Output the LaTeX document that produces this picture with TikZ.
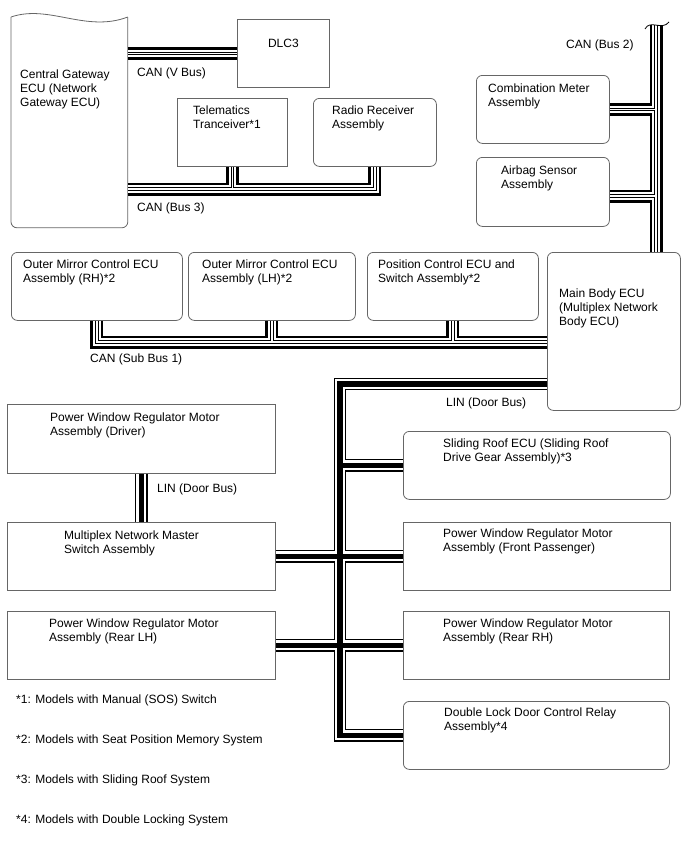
\documentclass[tikz,border=0pt]{standalone}
\usepackage{fontspec}
\setmainfont{Liberation Sans}
\usetikzlibrary{positioning,calc}

\begin{document}
\begin{tikzpicture}[x=1pt,y=-1pt,node distance=8pt,
  box/.style={draw=black!60,line width=0.8pt,inner sep=0pt,anchor=north west},
  rbox/.style={box,rounded corners=6pt},
  txt/.style={align=left,inner sep=0pt,font=\fontsize{12}{14}\selectfont},
  can/.style={line width=13pt,
    postaction={draw=white,line width=7.6pt},
    postaction={draw=black,line width=3.8pt},
    postaction={draw=white,line width=1.4pt}},
  lin/.style={line width=12.5pt,
    postaction={draw=white,line width=10pt},
    postaction={draw=black,line width=5.2pt}}]
  \useasboundingbox (0,0) rectangle (688,852);

  % boxes
  \node[box,draw=none,minimum width=116,minimum height=210] (gw) at (11,17) {};
  \node[box,minimum width=92,minimum height=68] (dlc) at (237,19) {};
  \node[box,minimum width=110,minimum height=68] (tel) at (177,98) {};
  \node[rbox,minimum width=123,minimum height=68] (radio) at (313,98) {};
  \node[rbox,minimum width=133,minimum height=68] (cm) at (476,75) {};
  \node[rbox,minimum width=133,minimum height=69] (ab) at (476,157) {};
  \node[rbox,minimum width=171,minimum height=68] (omr) at (11,252) {};
  \node[rbox,minimum width=167,minimum height=68] (oml) at (188,252) {};
  \node[rbox,minimum width=171,minimum height=68] (pos) at (367,252) {};
  \node[rbox,minimum width=133,minimum height=158] (mb) at (547,252) {};
  \node[box,minimum width=268,minimum height=69] (drv) at (7,404) {};
  \node[box,minimum width=268,minimum height=68] (msw) at (7,522) {};
  \node[rbox,minimum width=267,minimum height=68] (sr) at (403,431) {};
  \node[box,minimum width=267,minimum height=68] (fp) at (403,522) {};
  \node[box,minimum width=268,minimum height=68] (rlh) at (7,611) {};
  \node[box,minimum width=266,minimum height=68] (rrh) at (403,611) {};
  \node[rbox,minimum width=266,minimum height=68] (dl) at (403,701) {};

  % gateway outline with wavy top
  \draw[draw=black!60,line width=0.8pt,rounded corners=6pt]
    (gw.north west) -- (gw.south west) -- (gw.south east) -- (gw.north east);
  \draw[draw=black!60,line width=0.8pt] (gw.north west)
    .. controls ($(gw.north west)+(38,-13)$) and ($(gw.north east)+(-42,16)$) .. (gw.north east);

  % box texts
  \node[txt,below right=53pt and 9pt of gw.north west] (tgw) {Central Gateway\\ECU (Network\\Gateway ECU)};
  \node[txt,anchor=north,below=20pt of dlc.north] (tdlc) {DLC3};
  \node[txt,below right=8pt and 16pt of tel.north west] (ttel) {Telematics\\Tranceiver*1};
  \node[txt,below right=8pt and 19pt of radio.north west] (tradio) {Radio Receiver\\Assembly};
  \node[txt,below right=9pt and 12pt of cm.north west] (tcm) {Combination Meter\\Assembly};
  \node[txt,below right=9pt and 25pt of ab.north west] (tab) {Airbag Sensor\\Assembly};
  \node[txt,below right=8pt and 12pt of omr.north west] (tomr) {Outer Mirror Control ECU\\Assembly (RH)*2};
  \node[txt,below right=8pt and 14pt of oml.north west] (toml) {Outer Mirror Control ECU\\Assembly (LH)*2};
  \node[txt,below right=8pt and 11pt of pos.north west] (tpos) {Position Control ECU and\\Switch Assembly*2};
  \node[txt,below right=37pt and 12pt of mb.north west] (tmb) {Main Body ECU\\(Multiplex Network\\Body ECU)};
  \node[txt,below right=9pt and 43pt of drv.north west] (tdrv) {Power Window Regulator Motor\\Assembly (Driver)};
  \node[txt,below right=9pt and 57pt of msw.north west] (tmsw) {Multiplex Network Master\\Switch Assembly};
  \node[txt,below right=8pt and 40pt of sr.north west] (tsr) {Sliding Roof ECU (Sliding Roof\\Drive Gear Assembly)*3};
  \node[txt,below right=7pt and 40pt of fp.north west] (tfp) {Power Window Regulator Motor\\Assembly (Front Passenger)};
  \node[txt,below right=8pt and 42pt of rlh.north west] (trlh) {Power Window Regulator Motor\\Assembly (Rear LH)};
  \node[txt,below right=8pt and 40pt of rrh.north west] (trrh) {Power Window Regulator Motor\\Assembly (Rear RH)};
  \node[txt,below right=7pt and 41pt of dl.north west] (tdl) {Double Lock Door Control Relay\\Assembly*4};

  % bus corners
  \coordinate (b3) at (0,189);
  \coordinate (b2) at (656,25);
  \coordinate (a2) at (656,196);
  \coordinate (s1) at (0,342);
  \coordinate (l1) at (340,384);

  % CAN buses
  \draw[can] (gw.east |- dlc.west) -- (dlc.west);
  \draw[can] (gw.east |- b3) -| (radio.south)
    (tel.south) -- (tel.south |- b3);
  \draw[can] (b2) -- (b2 |- mb.north)
    (cm.east) -- (cm.east -| b2)
    (a2) -- (a2 -| ab.east);
  \draw[can] (omr.south) |- (s1 -| mb.west)
    (oml.south) -- (oml.south |- s1)
    (pos.south) -- (pos.south |- s1);
  \draw[line width=0.8pt] (645,29) .. controls (650,19) and (662,31) .. (669,22);

  % LIN buses
  \draw[lin] (l1 -| mb.west) -- (l1) |- (dl.west)
    (sr.west) -- (sr.west -| l1)
    (msw.east) -- (fp.west)
    (rlh.east) -- (rrh.west);
  \draw[lin] (drv.south) -- (msw.north);

  % bus labels
  \node[txt,anchor=north west] (lvb) at (137,68) {CAN (V Bus)};
  \node[txt,anchor=north west] (lb3) at (137,203) {CAN (Bus 3)};
  \node[txt,anchor=north west] (lb2) at (566,40) {CAN (Bus 2)};
  \node[txt,anchor=north west] (ls1) at (90,354) {CAN (Sub Bus 1)};
  \node[txt,anchor=north west] (ld1) at (446,398) {LIN (Door Bus)};
  \node[txt,anchor=north west] (ld2) at (157,484) {LIN (Door Bus)};

  % footnotes
  \node[txt,anchor=north west] (n1) at (16,695) {*1: Models with Manual (SOS) Switch};
  \node[txt,anchor=north west] (n2) at (16,735) {*2: Models with Seat Position Memory System};
  \node[txt,anchor=north west] (n3) at (16,775) {*3: Models with Sliding Roof System};
  \node[txt,anchor=north west] (n4) at (16,815) {*4: Models with Double Locking System};
\end{tikzpicture}
\end{document}
